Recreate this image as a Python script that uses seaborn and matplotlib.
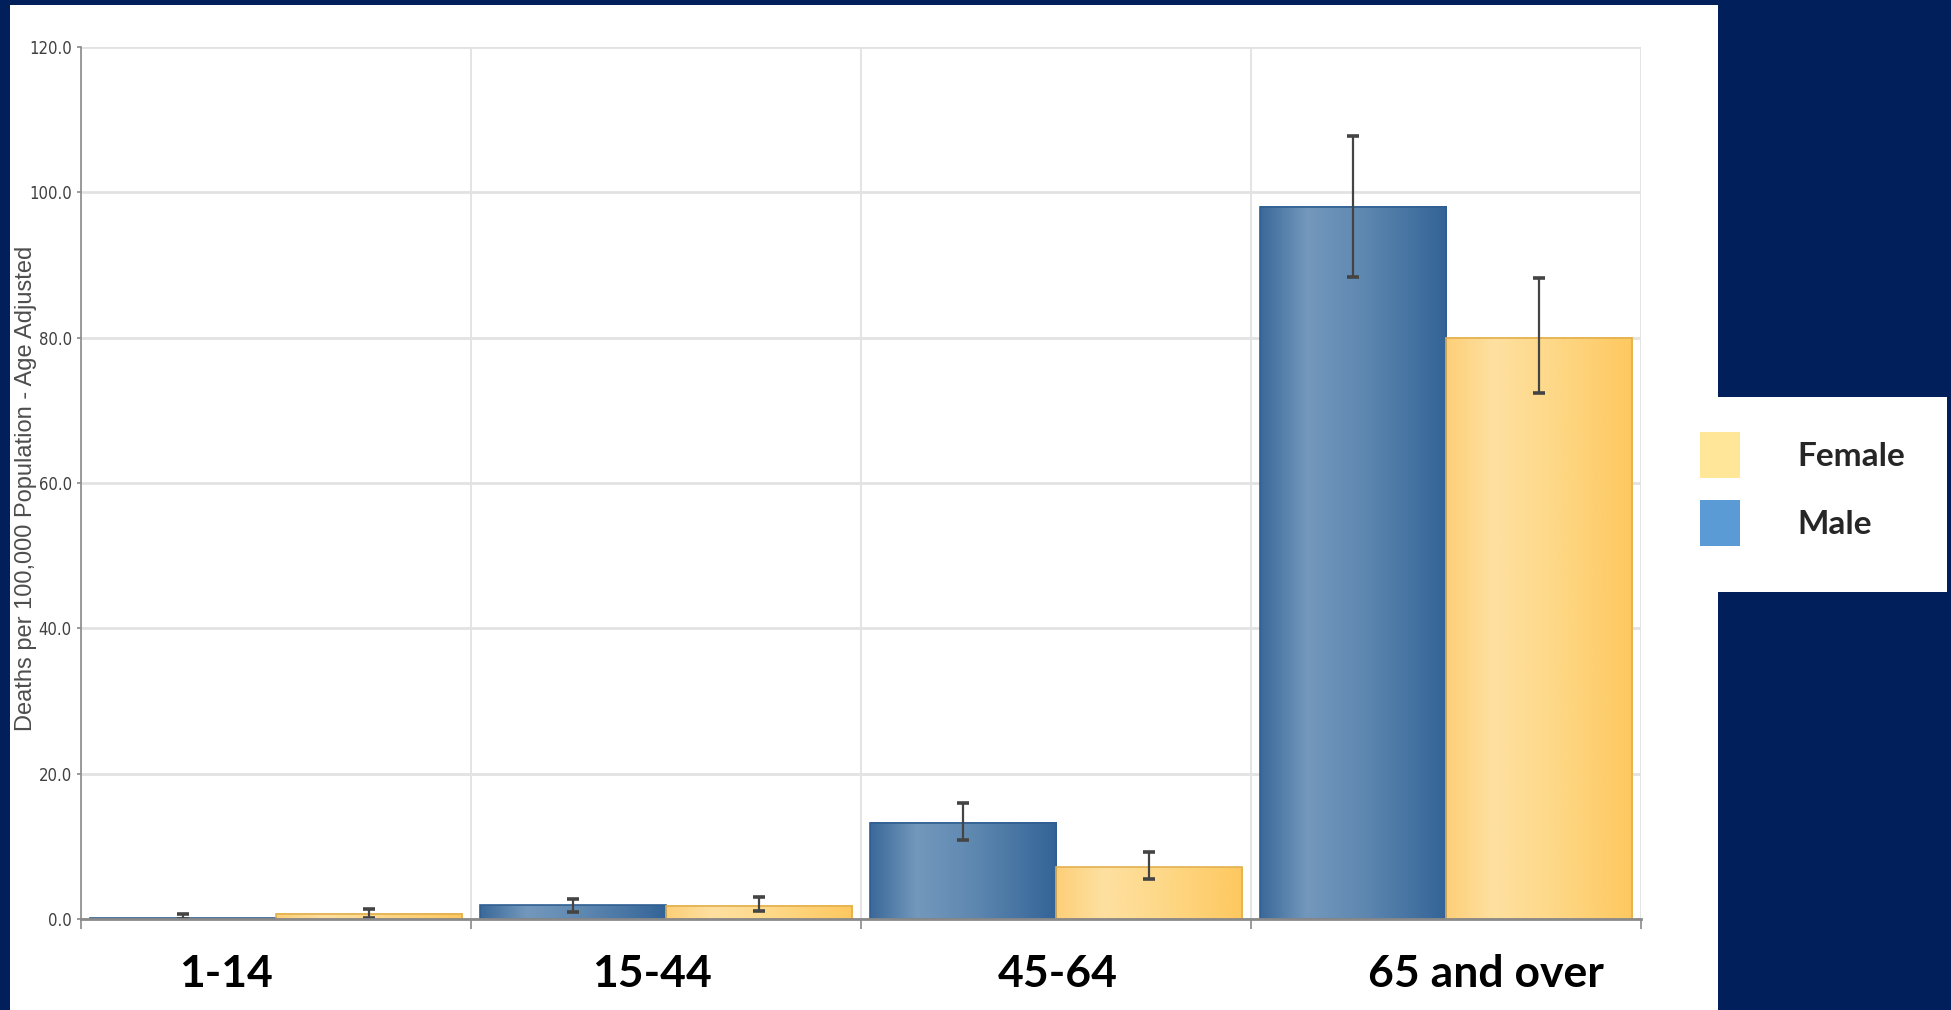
import matplotlib
matplotlib.use("Agg")
import numpy as np
import pandas as pd
import matplotlib.pyplot as plt
import matplotlib.transforms as mtransforms
import seaborn as sns
from matplotlib.colors import LinearSegmentedColormap
from matplotlib.font_manager import FontProperties
from matplotlib.patches import Patch, Rectangle

# values
age_groups = ["1-14", "15-44", "45-64", "65 and over"]
sexes = ["Male", "Female"]
male_rate = [0.1, 1.9, 13.25, 98.0]
male_low = [0.05, 1.0, 10.9, 88.4]
male_high = [0.7, 2.8, 15.9, 107.7]
female_rate = [0.7, 1.8, 7.1, 80.0]
female_low = [0.15, 1.1, 5.5, 72.4]
female_high = [1.4, 3.0, 9.25, 88.2]
y_ticks = [0, 20, 40, 60, 80, 100, 120]
legend_labels = ["Female", "Male"]

NAVY = "#011f5b"
bar_gradients = {
    "Male": ["#3a6899", "#7398bc", "#5f88b1", "#336497"],
    "Female": ["#fdcf78", "#fee0a0", "#fed98a", "#fec85f"],
}
bar_edges = {"Male": "#2f5f92", "Female": "#e2b04f"}
legend_colors = ["#ffe699", "#5b9bd5"]

df = pd.DataFrame({
    "age_group": age_groups * 2,
    "sex": ["Male"] * len(age_groups) + ["Female"] * len(age_groups),
    "rate": male_rate + female_rate,
    "low": male_low + female_low,
    "high": male_high + female_high,
})

sns.set_style("white")
fig = plt.figure(figsize=(19.51, 10.10), dpi=100, facecolor=NAVY)

# white slide panels behind the chart and legend
fig.add_artist(Rectangle((10 / 1951, 0), 1708 / 1951, 1005 / 1010,
                         transform=fig.transFigure, facecolor="white",
                         edgecolor="none", zorder=-10))
fig.add_artist(Rectangle((1718 / 1951, 418 / 1010), 229 / 1951, 195 / 1010,
                         transform=fig.transFigure, facecolor="white",
                         edgecolor="none", zorder=-10))

ax = fig.add_axes([81 / 1951, 91 / 1010, 1560 / 1951, 872 / 1010])
ax.set_facecolor("white")

sns.barplot(
    data=df, x="age_group", y="rate", hue="sex",
    order=age_groups, hue_order=sexes,
    palette={"Male": "#4a79a8", "Female": "#fed27c"},
    width=0.956, errorbar=None, legend=False, ax=ax, zorder=3,
)

# gradient fill for each bar, plus the confidence interval
for container, sex in zip(ax.containers, sexes):
    cmap = LinearSegmentedColormap.from_list(
        sex, list(zip([0, 0.25, 0.55, 1], bar_gradients[sex])))
    sub = df[df["sex"] == sex].set_index("age_group").loc[age_groups]
    for bar, (_, row) in zip(container, sub.iterrows()):
        x0, w, h = bar.get_x(), bar.get_width(), bar.get_height()
        bar.set_facecolor("none")
        bar.set_edgecolor(bar_edges[sex])
        bar.set_linewidth(1.2)
        grad = np.linspace(0, 1, 256).reshape(1, -1)
        ax.imshow(grad, cmap=cmap, extent=[x0, x0 + w, 0, h],
                  aspect="auto", zorder=2.9, interpolation="bicubic")
        ax.errorbar(x0 + w / 2, row["rate"],
                    yerr=[[row["rate"] - row["low"]], [row["high"] - row["rate"]]],
                    fmt="none", ecolor="#444444", elinewidth=1.6,
                    capsize=4, capthick=2.6, zorder=5)

ax.set_xlim(-0.5, len(age_groups) - 0.5)
ax.set_ylim(0, 120)

ax.set_yticks(y_ticks)
ax.set_yticklabels([f"{v:.1f}" for v in y_ticks], family="DejaVu Sans",
                   fontstretch="condensed", fontsize=12, color="#404040")
ax.tick_params(axis="y", length=3, width=1.2, color="#8a8a8a", pad=3.6, left=True)

ax.set_xticks(range(len(age_groups)))
ax.set_xticklabels(age_groups, family="Lato", weight="bold", fontsize=32, color="black")
ax.set_xticks(np.arange(-0.5, len(age_groups)), minor=True)
ax.tick_params(axis="x", which="major", length=0, pad=25)
ax.tick_params(axis="x", which="minor", length=7, width=1.2, color="#8a8a8a",
               bottom=True, direction="out")

# labels sit slightly off-centre in the original slide
label_shift_px = [-50, -14, 2, 40]
for lab, dx in zip(ax.get_xticklabels(), label_shift_px):
    lab.set_transform(lab.get_transform()
                      + mtransforms.ScaledTranslation(dx / 100, 0, fig.dpi_scale_trans))

ax.grid(False)
ax.yaxis.grid(True, which="major", color="#e2e2e2", linewidth=2, zorder=0)
ax.xaxis.grid(True, which="minor", color="#e2e2e2", linewidth=1.3, zorder=0)
ax.set_axisbelow(True)

for side in ["top", "right"]:
    ax.spines[side].set_visible(False)
ax.spines["left"].set_color("#8a8a8a")
ax.spines["left"].set_linewidth(1.2)
ax.spines["bottom"].set_color("#8a8a8a")
ax.spines["bottom"].set_linewidth(2)
ax.spines["bottom"].set_zorder(6)

ax.set_xlabel("")
ax.set_ylabel("Deaths per 100,000 Population - Age Adjusted",
              family="Liberation Sans", fontsize=17, color="#4d4d4d")
ax.yaxis.set_label_coords(-0.028, 0.494)

# legend: square swatches with bold labels on the right-hand white box
fs = 24
fs_px = fs * 100 / 72
hh = (46 / fs_px - 0.245) / 0.65
handles = [Patch(facecolor=c, edgecolor="none") for c in legend_colors]
fig.legend(handles, legend_labels, loc="upper left",
           bbox_to_anchor=(1700 / 1951, 1 - 432 / 1010),
           frameon=False, borderpad=0, borderaxespad=0,
           handlelength=40 / fs_px, handleheight=hh,
           handletextpad=57 / fs_px, labelspacing=(68 - 46) / fs_px,
           prop=FontProperties(family="Lato", weight="bold", size=fs))

fig.savefig("out.png", dpi=100, facecolor=fig.get_facecolor())
